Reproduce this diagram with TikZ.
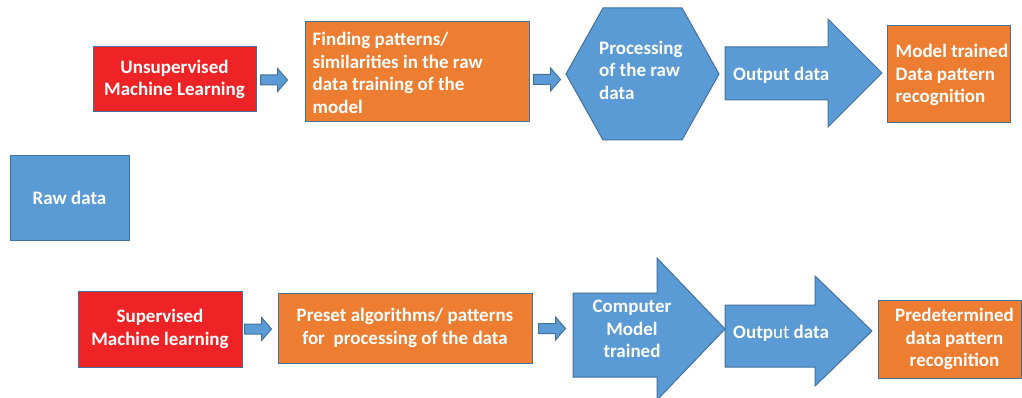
\documentclass[tikz,border=0pt]{standalone}
\usepackage{fontspec}
\setmainfont{Carlito}
\usetikzlibrary{calc}
\definecolor{ofblue}{HTML}{5B9BD5}
\definecolor{ofline}{HTML}{41719C}
\definecolor{oforange}{HTML}{ED7D31}
\definecolor{ofred}{HTML}{EE2326}
\tikzset{
  lbl/.style={text=white, font=\bfseries\fontsize{19}{22.5}\selectfont, inner sep=0pt, align=center},
  boxbase/.style={lbl, draw=ofline, line width=1pt, rectangle},
  redbox/.style={boxbase, fill=ofred},
  orangebox/.style={boxbase, fill=oforange},
  bluebox/.style={boxbase, fill=ofblue},
  shapefill/.style={draw=ofline, line width=1pt, fill=ofblue},
  smallarr/.pic={\draw[shapefill] (0,-5)--(17,-5)--(17,-11.5)--(27,0)--(17,11.5)--(17,5)--(0,5)--cycle;}
}
\begin{document}
\begin{tikzpicture}[x=1pt,y=-1pt]
\useasboundingbox (0,0) rectangle (1022,398);

% ---------- top row ----------
\node[redbox, minimum width=163pt, minimum height=65pt] (un) at (174.5,79.5)
  {Unsupervised\\Machine Learning};
\node[orangebox, minimum width=224pt, minimum height=100pt] (find) at (417,72) {};
\node[lbl, align=flush left, anchor=west] (findt) at ($(find.west)+(8,1)$)
  {Finding patterns/\\similarities in the raw\\data training of the\\model};
\draw[shapefill] (566,74) -- (603,8) -- (682,8) -- (719,74) -- (682,140) -- (603,140) -- cycle;
\node[lbl, align=flush left, anchor=west] (hex) at (599,70) {Processing\\of the raw\\data};
\draw[shapefill] (725,47) -- (828,47) -- (828,19) -- (882,73) -- (828,127) -- (828,100) -- (725,100) -- cycle;
\node[lbl, anchor=west] (out1) at (733,75) {Output data};
\node[orangebox, minimum width=123pt, minimum height=97pt] (mt) at (948.5,74.5) {};
\node[lbl, align=flush left, anchor=west] (mtt) at ($(mt.west)+(9,0.5)$)
  {Model trained\\Data pattern\\recognition};

\pic at ($(un.east)+(4,0.5)$) {smallarr};
\pic at ($(find.east)+(4,7.5)$) {smallarr};

% ---------- raw data ----------
\node[bluebox, minimum width=119pt, minimum height=84pt] (raw) at (69.5,198) {Raw data};

% ---------- bottom row ----------
\node[redbox, minimum width=164pt, minimum height=76pt] (sup) at (160,329)
  {Supervised\\Machine learning};
\node[orangebox, minimum width=254pt, minimum height=70pt] (pre) at (405,328)
  {Preset algorithms/ patterns\\for\ \ processing of the data};
\draw[shapefill] (573,293) -- (657,293) -- (657,258) -- (725,329) -- (657,400) -- (657,377) -- (573,377) -- cycle;
\node[lbl] (comp) at (632,329) {Computer\\Model\\trained};
\draw[shapefill] (725,305) -- (815,305) -- (815,276) -- (872,331) -- (815,386) -- (815,367) -- (725,367) -- cycle;
\node[lbl, anchor=west] (out2) at (733,333) {Outp\textmd{ut} data};
\node[orangebox, minimum width=143pt, minimum height=78pt] (pd) at (949.5,339)
  {\hspace*{10pt}Predetermined\\\hspace*{10pt}data pattern\\\hspace*{10pt}recognition};

\pic at ($(sup.east)+(2,0)$) {smallarr};
\pic at ($(pre.east)+(6,0.5)$) {smallarr};
\end{tikzpicture}
\end{document}
